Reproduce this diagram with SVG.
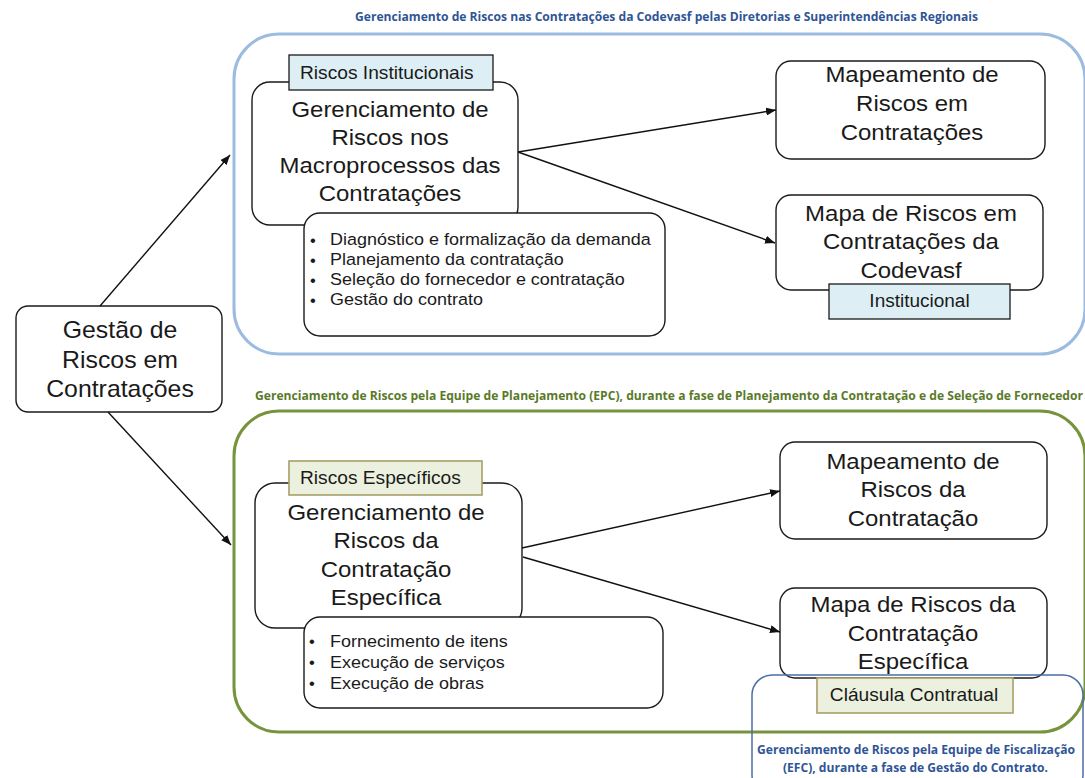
<svg xmlns="http://www.w3.org/2000/svg" width="1085" height="778" viewBox="0 0 1085 778">
<style>
.box{fill:#fff;stroke:#1a1a1a;stroke-width:1.4}
.lblB{fill:#DDEFF4;stroke:#1a1a1a;stroke-width:1.3}
.lblG{fill:#EBF1DE;stroke:#A89F68;stroke-width:1.6}
.n{font-family:"Liberation Sans",Arial,sans-serif;font-size:22px;fill:#1a1a1a;text-anchor:middle}
.nl{font-family:"Liberation Sans",Arial,sans-serif;font-size:23px;fill:#1a1a1a;text-anchor:middle}
.b{font-family:"Liberation Sans",Arial,sans-serif;font-size:16.5px;fill:#1a1a1a}
.l{font-family:"Liberation Sans",Arial,sans-serif;font-size:17.6px;fill:#1a1a1a}
.t{font-family:"Open Sans",sans-serif;font-weight:700;font-size:11.5px}
.tb{fill:#2F5597}
.tg{fill:#5A7A2A}
.conn{stroke:#111;stroke-width:1.4;fill:none}
</style>
<defs>
<marker id="arr" markerUnits="userSpaceOnUse" markerWidth="10" markerHeight="8" refX="10" refY="4" orient="auto">
<path d="M0,0 L10,4 L0,8 z" fill="#111"/>
</marker>
</defs>

<g id="containers">
<rect x="234" y="34" width="851" height="320" rx="45" fill="none" stroke="#9BBBE0" stroke-width="3"/>
<rect x="234" y="411" width="851" height="321" rx="45" fill="none" stroke="#77933C" stroke-width="3"/>
<text class="t tb" x="355" y="21" textLength="623" lengthAdjust="spacingAndGlyphs">Gerenciamento de Riscos nas Contratações da Codevasf pelas Diretorias e Superintendências Regionais</text>
<text class="t tg" x="255" y="400" textLength="828" lengthAdjust="spacingAndGlyphs">Gerenciamento de Riscos pela Equipe de Planejamento (EPC), durante a fase de Planejamento da Contratação e de Seleção de Fornecedor</text>
</g>

<g id="node-gestao">
<rect class="box" x="16" y="306" width="206" height="106" rx="12"/>
<g transform="translate(120,0) scale(1.08,1)">
<text class="nl" x="0" y="338">Gestão de</text>
<text class="nl" x="0" y="368">Riscos em</text>
<text class="nl" x="0" y="397">Contratações</text>
</g>
</g>

<g id="node-macro">
<rect class="box" x="252" y="82" width="266" height="143" rx="18"/>
<g transform="translate(390,0) scale(1.09,1)">
<text class="n" x="0" y="117">Gerenciamento de</text>
<text class="n" x="0" y="145">Riscos nos</text>
<text class="n" x="0" y="173">Macroprocessos das</text>
<text class="n" x="0" y="201">Contratações</text>
</g>
</g>

<g id="node-macro-list">
<rect class="box" x="304" y="213" width="361" height="123" rx="16"/>
<text class="b" x="310" y="245.5">•</text>
<text class="b" x="310" y="265.5">•</text>
<text class="b" x="310" y="285.5">•</text>
<text class="b" x="310" y="305.5">•</text>
<g transform="translate(330,0) scale(1.09,1)">
<text class="b" x="0" y="245.5">Diagnóstico e formalização da demanda</text>
<text class="b" x="0" y="265.5">Planejamento da contratação</text>
<text class="b" x="0" y="285.5">Seleção do fornecedor e contratação</text>
<text class="b" x="0" y="305.5">Gestão do contrato</text>
</g>
</g>

<g id="label-institucionais">
<rect class="lblB" x="289" y="55" width="204" height="35"/>
<g transform="translate(300,0) scale(1.09,1)">
<text class="l" x="0" y="79">Riscos Institucionais</text>
</g>
</g>

<g id="node-mapeamento-top">
<rect class="box" x="776" y="61" width="269" height="98" rx="15"/>
<g transform="translate(912,0) scale(1.09,1)">
<text class="n" x="0" y="82">Mapeamento de</text>
<text class="n" x="0" y="111">Riscos em</text>
<text class="n" x="0" y="140">Contratações</text>
</g>
</g>

<g id="node-mapa-top">
<rect class="box" x="776" y="195" width="267" height="95" rx="15"/>
<g transform="translate(911,0) scale(1.09,1)">
<text class="n" x="0" y="221">Mapa de Riscos em</text>
<text class="n" x="0" y="249.5">Contratações da</text>
<text class="n" x="0" y="278">Codevasf</text>
</g>
</g>

<g id="label-institucional">
<rect class="lblB" x="829" y="284" width="181" height="35"/>
<g transform="translate(919.5,0) scale(1.08,1)">
<text class="l" x="0" y="307.5" text-anchor="middle" font-size="17">Institucional</text>
</g>
</g>

<g id="node-especifica">
<rect class="box" x="255" y="483" width="267" height="145" rx="20"/>
<g transform="translate(386,0) scale(1.09,1)">
<text class="n" x="0" y="520">Gerenciamento de</text>
<text class="n" x="0" y="548.5">Riscos da</text>
<text class="n" x="0" y="577">Contratação</text>
<text class="n" x="0" y="605.5">Específica</text>
</g>
</g>

<g id="node-especifica-list">
<rect class="box" x="304" y="617" width="359" height="91" rx="16"/>
<text class="b" x="309" y="647">•</text>
<text class="b" x="309" y="668">•</text>
<text class="b" x="309" y="689">•</text>
<g transform="translate(330,0) scale(1.09,1)">
<text class="b" x="0" y="647">Fornecimento de itens</text>
<text class="b" x="0" y="668">Execução de serviços</text>
<text class="b" x="0" y="689">Execução de obras</text>
</g>
</g>

<g id="label-especificos">
<rect class="lblG" x="289" y="461" width="193" height="34"/>
<g transform="translate(300,0) scale(1.09,1)">
<text class="l" x="0" y="484.5">Riscos Específicos</text>
</g>
</g>

<g id="node-mapeamento-bottom">
<rect class="box" x="780" y="442" width="267" height="97" rx="15"/>
<g transform="translate(913,0) scale(1.09,1)">
<text class="n" x="0" y="469">Mapeamento de</text>
<text class="n" x="0" y="497.5">Riscos da</text>
<text class="n" x="0" y="526">Contratação</text>
</g>
</g>

<g id="node-mapa-bottom">
<rect class="box" x="780" y="588" width="267" height="90" rx="15"/>
<g transform="translate(913,0) scale(1.09,1)">
<text class="n" x="0" y="612.5">Mapa de Riscos da</text>
<text class="n" x="0" y="641">Contratação</text>
<text class="n" x="0" y="669.5">Específica</text>
</g>
</g>

<g id="efc-region">
<rect x="752" y="675" width="331" height="120" rx="20" fill="none" stroke="#4A6FA5" stroke-width="1.5"/>
<text class="t tb" x="757" y="754" font-size="12.5" textLength="318" lengthAdjust="spacingAndGlyphs">Gerenciamento de Riscos pela Equipe de Fiscalização</text>
<text class="t tb" x="783" y="772" font-size="12.5" textLength="265" lengthAdjust="spacingAndGlyphs">(EFC), durante a fase de Gestão do Contrato.</text>
</g>

<g id="label-clausula">
<rect class="lblG" x="817" y="678" width="196" height="35"/>
<g transform="translate(914,0) scale(1.09,1)">
<text class="l" x="0" y="701.5" text-anchor="middle">Cláusula Contratual</text>
</g>
</g>

<g id="connectors">
<line class="conn" x1="100" y1="306" x2="230" y2="155" marker-end="url(#arr)"/>
<line class="conn" x1="108" y1="412" x2="231" y2="545" marker-end="url(#arr)"/>
<line class="conn" x1="518" y1="152" x2="776" y2="110" marker-end="url(#arr)"/>
<line class="conn" x1="518" y1="152" x2="775" y2="243" marker-end="url(#arr)"/>
<line class="conn" x1="522" y1="548" x2="780" y2="491" marker-end="url(#arr)"/>
<line class="conn" x1="523" y1="557" x2="780" y2="632" marker-end="url(#arr)"/>
</g>
</svg>
